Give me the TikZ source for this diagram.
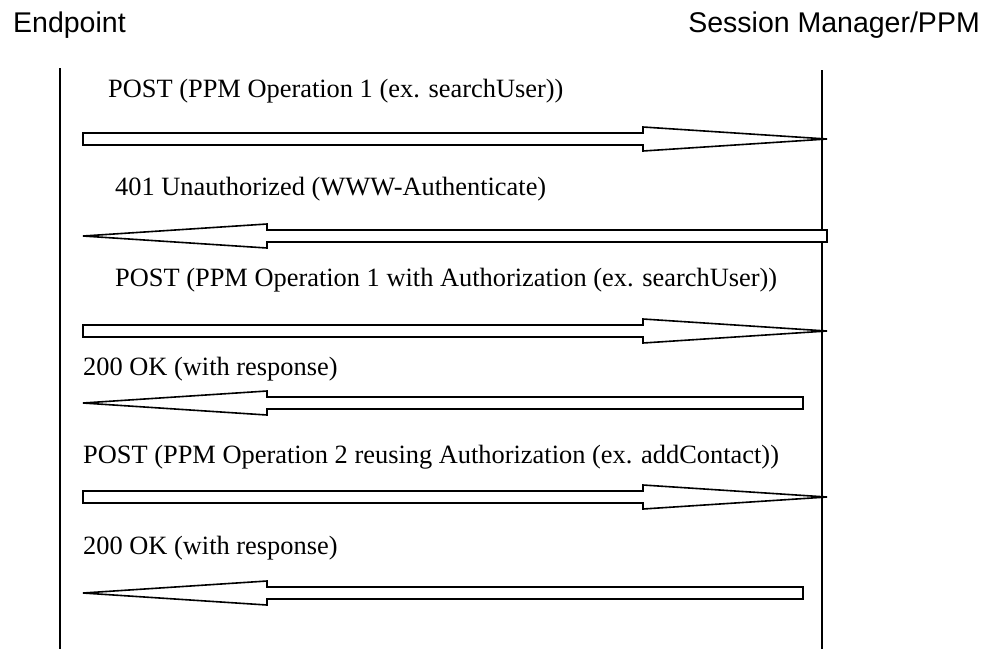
\documentclass[tikz,border=0pt]{standalone}
\usepackage{fontspec}
\setmainfont{Liberation Serif}
\setsansfont{Liberation Sans}
\usetikzlibrary{calc}
\tikzstyle{lifeline}=[draw,line width=2pt]
\tikzstyle{msg}=[draw,line width=1.6pt,fill=white,line join=miter]
\tikzstyle{party}=[font=\sffamily\fontsize{28.5}{30}\selectfont,inner sep=0pt]
\tikzstyle{msglabel}=[font=\fontsize{26.4}{28}\selectfont,anchor=base west,inner sep=0pt]
% block arrow: tail, tip, direction (1 = to the right, -1 = to the left)
\newcommand{\msgarrow}[3]{%
  \path[msg] ($(#1)+(0,-6)$) -- ($(#2)+({-184*(#3)},-6)$) -- ($(#2)+({-184*(#3)},-12)$) -- (#2)
    -- ($(#2)+({-184*(#3)},12)$) -- ($(#2)+({-184*(#3)},6)$) -- ($(#1)+(0,6)$) -- cycle;}

\begin{document}
\begin{tikzpicture}[x=1pt,y=-1pt]
\useasboundingbox (0,0) rectangle (987,649);

    \node[party,anchor=base west] (ep) at (13,32) {Endpoint};
    \node[party,anchor=base east] (sm) at (980,32) {Session Manager/PPM};

    \foreach \name/ \x/ \y in {eptop/60/68, epbot/60/649, smtop/822/70, smbot/822/649}
        \coordinate (\name) at (\x,\y);
    \path[lifeline] (eptop) -- (epbot);
    \path[lifeline] (smtop) -- (smbot);

    % tails and tips of the messages
    \foreach \name/ \x/ \y in {t1/83/139, h1/827/139, t2/827/236, h2/83/236,
                               t3/83/331, h3/827/331, t4/803/403, h4/83/403,
                               t5/83/497, h5/827/497, t6/803/593, h6/83/593}
        \coordinate (\name) at (\x,\y);

    \foreach \source/ \dest/ \dir in {t1/h1/1, t2/h2/-1, t3/h3/1, t4/h4/-1, t5/h5/1, t6/h6/-1}
        \msgarrow{\source}{\dest}{\dir};

    \node[msglabel] (m1) at (108,97) {POST (PPM Operation 1 (ex. searchUser))};
    \node[msglabel] (m2) at (115,195) {401 Unauthorized (WWW-Authenticate)};
    \node[msglabel] (m3) at (115,286) {POST (PPM Operation 1 with Authorization (ex. searchUser))};
    \node[msglabel] (m4) at (83,375) {200 OK (with response)};
    \node[msglabel] (m5) at (83,463) {POST (PPM Operation 2 reusing Authorization (ex. addContact))};
    \node[msglabel] (m6) at (83,554) {200 OK (with response)};

\end{tikzpicture}
\end{document}
